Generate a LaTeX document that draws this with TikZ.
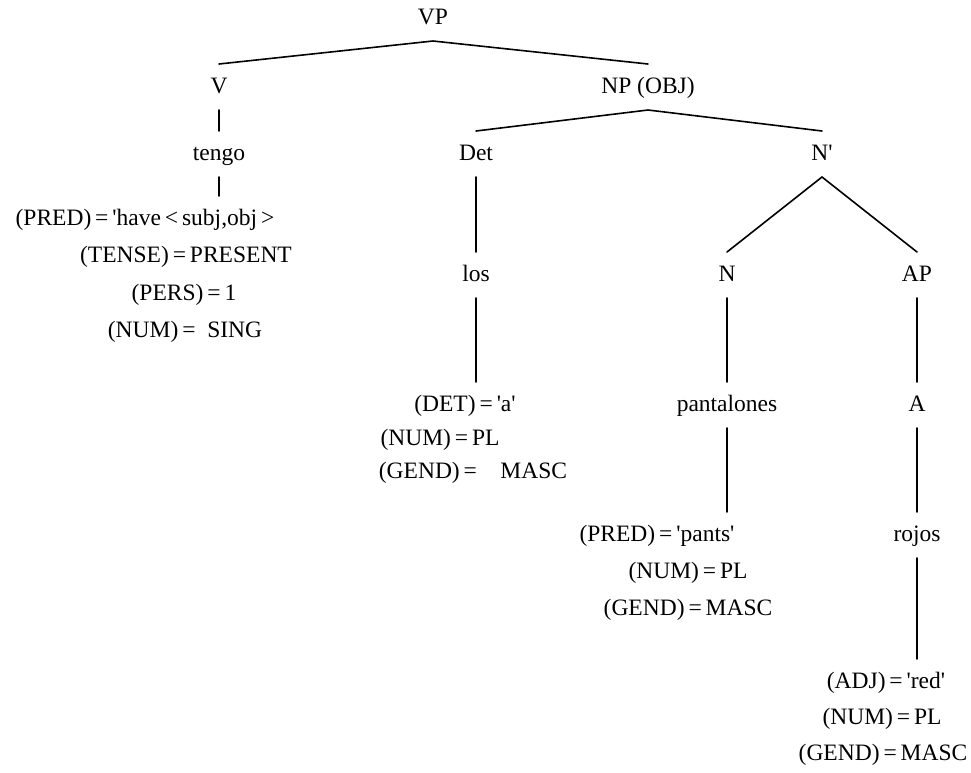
\documentclass[tikz,border=0pt]{standalone}
\usepackage{fontspec}
\setmainfont{Liberation Serif}
\begin{document}
\begin{tikzpicture}[x=1pt,y=-1pt,
  lbl/.style={inner sep=0pt,outer sep=0pt,text height=29pt,text depth=17pt,
    anchor=base,font=\fontsize{23.5}{28}\selectfont},
  feat/.style={lbl},
  branch/.style={line width=1.6pt,line cap=round}]
\useasboundingbox (0,0) rectangle (971,772);
% phrase-structure labels
\node[lbl] (VP)   at (433,24)  {VP};
\node[lbl] (V)    at (219,93)  {V};
\node[lbl] (NP)   at (648,93)  {NP (OBJ)};
\node[lbl] (teng) at (219,160) {tengo};
\node[lbl] (Det)  at (476,160) {Det};
\node[lbl] (Nb)   at (822,160) {N\textquotesingle};
\node[lbl] (los)  at (476,281) {los};
\node[lbl] (N)    at (727,281) {N};
\node[lbl] (AP)   at (917,281) {AP};
\node[lbl] (pant) at (727,411) {pantalones};
\node[lbl] (A)    at (917,411) {A};
\node[lbl] (roj)  at (917,541) {rojos};
% functional annotations
\node[feat] (vpred)  at (145,225) {(PRED)\,=\,\textquotesingle have\,<\,subj,obj\,>};
\node[feat] (vtense) at (186,262) {(TENSE)\,=\,PRESENT};
\node[feat] (vpers)  at (184,300) {(PERS)\,=\,1};
\node[feat] (vnum)   at (185,337) {(NUM)\,=\ \ SING};
\node[feat] (ddet)   at (465,411) {(DET)\,=\,\textquotesingle a\textquotesingle};
\node[feat] (dnum)   at (440,445) {(NUM)\,=\,PL};
\node[feat] (dgend)  at (473,478) {(GEND)\,=\quad MASC};
\node[feat] (npred)  at (657,541) {(PRED)\,=\,\textquotesingle pants\textquotesingle};
\node[feat] (nnum)   at (688,578) {(NUM)\,=\,PL};
\node[feat] (ngend)  at (688,615) {(GEND)\,=\,MASC};
\node[feat] (aadj)   at (886,688) {(ADJ)\,=\,\textquotesingle red\textquotesingle};
\node[feat] (anum)   at (882,724) {(NUM)\,=\,PL};
\node[feat] (agend)  at (883,760) {(GEND)\,=\,MASC};
% branches
\draw[branch] (V.north) -- (VP.south) -- (NP.north);
\draw[branch] (V.south) -- (teng.north);
\draw[branch] (teng.south) -- (teng.south |- vpred.north);
\draw[branch] (Det.north) -- (NP.south) -- (Nb.north);
\draw[branch] (Det.south) -- (los.north);
\draw[branch] (los.south) -- (los.south |- ddet.north);
\draw[branch] (N.north) -- (Nb.south) -- (AP.north);
\draw[branch] (N.south) -- (pant.north);
\draw[branch] (AP.south) -- (A.north);
\draw[branch] (pant.south) -- (pant.south |- npred.north);
\draw[branch] (A.south) -- (roj.north);
\draw[branch] (roj.south) -- (roj.south |- aadj.north);
\end{tikzpicture}
\end{document}
